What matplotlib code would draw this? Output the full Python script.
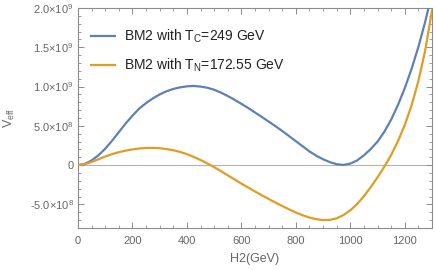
import matplotlib
matplotlib.use("Agg")
import matplotlib.pyplot as plt
from matplotlib.ticker import MultipleLocator, FixedLocator, FixedFormatter

plt.rcParams['font.family'] = ['Liberation Sans', 'DejaVu Sans']
plt.rcParams['mathtext.default'] = 'regular'

h2 = [0, 25, 50, 75, 100, 125, 150, 175, 200, 225, 250, 275, 300, 325, 350,
      375, 400, 425, 450, 475, 500, 525, 550, 575, 600, 625, 650, 675, 700,
      725, 750, 775, 800, 825, 850, 875, 900, 925, 950, 975, 1000, 1025, 1050,
      1075, 1100, 1125, 1150, 1175, 1200, 1225, 1250, 1275, 1300]
v_tc = [0, 0.015, 0.06, 0.125, 0.21, 0.31, 0.42, 0.53, 0.63, 0.72, 0.79, 0.85,
        0.90, 0.94, 0.97, 0.99, 1.003, 1.008, 1.00, 0.985, 0.96, 0.923, 0.88,
        0.832, 0.78, 0.727, 0.67, 0.613, 0.555, 0.496, 0.435, 0.37, 0.305,
        0.24, 0.175, 0.12, 0.075, 0.038, 0.012, 0.003, 0.02, 0.06, 0.125,
        0.205, 0.30, 0.425, 0.58, 0.765, 0.98, 1.225, 1.505, 1.825, 2.185]
v_tn = [0, 0.012, 0.04, 0.075, 0.11, 0.14, 0.165, 0.185, 0.20, 0.212, 0.218,
        0.22, 0.215, 0.205, 0.19, 0.168, 0.14, 0.105, 0.065, 0.022, -0.025,
        -0.077, -0.13, -0.182, -0.235, -0.285, -0.335, -0.383, -0.43, -0.476,
        -0.52, -0.563, -0.603, -0.638, -0.667, -0.688, -0.70, -0.697, -0.677,
        -0.635, -0.575, -0.495, -0.395, -0.28, -0.155, -0.02, 0.13, 0.305,
        0.51, 0.76, 1.07, 1.46, 1.97]
scale = 1e9
labels = [r"BM2 with T$_{C}$=249 GeV", r"BM2 with T$_{N}$=172.55 GeV"]
ytick_vals = [-5e8, 0, 5e8, 1e9, 1.5e9, 2e9]
ytick_labels = [r"-5.0$\times$10$^{8}$", "0", r"5.0$\times$10$^{8}$",
                r"1.0$\times$10$^{9}$", r"1.5$\times$10$^{9}$", r"2.0$\times$10$^{9}$"]

fig = plt.figure(figsize=(4.36, 2.70), dpi=100)
ax = fig.add_axes([78/436, 1-228/270, (432-78)/436, (228-8)/270])

blue = '#5E81B5'
orange = '#E19C24'
ax.axhline(0, color='#b3b3b3', lw=0.8, zorder=1)
ax.plot(h2, [v*scale for v in v_tc], color=blue, lw=1.6, label=labels[0], zorder=3)
ax.plot(h2, [v*scale for v in v_tn], color=orange, lw=1.6, label=labels[1], zorder=3)

ax.set_xlim(0, 1300)
ax.set_ylim(-0.8e9, 2.0e9)
ax.xaxis.set_major_locator(MultipleLocator(200))
ax.xaxis.set_minor_locator(MultipleLocator(50))
ax.yaxis.set_major_locator(FixedLocator(ytick_vals))
ax.yaxis.set_major_formatter(FixedFormatter(ytick_labels))
ax.yaxis.set_minor_locator(MultipleLocator(1e8))

tc = '#666666'
for s in ax.spines.values():
    s.set_color('#8c8c8c')
    s.set_linewidth(0.8)
ax.tick_params(which='both', direction='in', colors='#8c8c8c', labelcolor=tc,
               labelsize=8, top=True, right=True)
ax.tick_params(which='major', length=4, width=0.7)
ax.tick_params(which='minor', length=2, width=0.6)
ax.tick_params(axis='x', pad=6)
ax.tick_params(axis='y', pad=3)

ax.set_xlabel("H2(GeV)", color=tc, fontsize=9, labelpad=5)
ax.set_ylabel(r"V$_{eff}$", color=tc, fontsize=9, labelpad=9)

leg = ax.legend(loc='upper left', frameon=False, fontsize=10,
                handlelength=1.75, handletextpad=0.65, labelspacing=0.85,
                borderaxespad=0.0, bbox_to_anchor=(0.02, 0.935))
for t in leg.get_texts():
    t.set_color('#222222')

fig.savefig("out.png", dpi=100)
